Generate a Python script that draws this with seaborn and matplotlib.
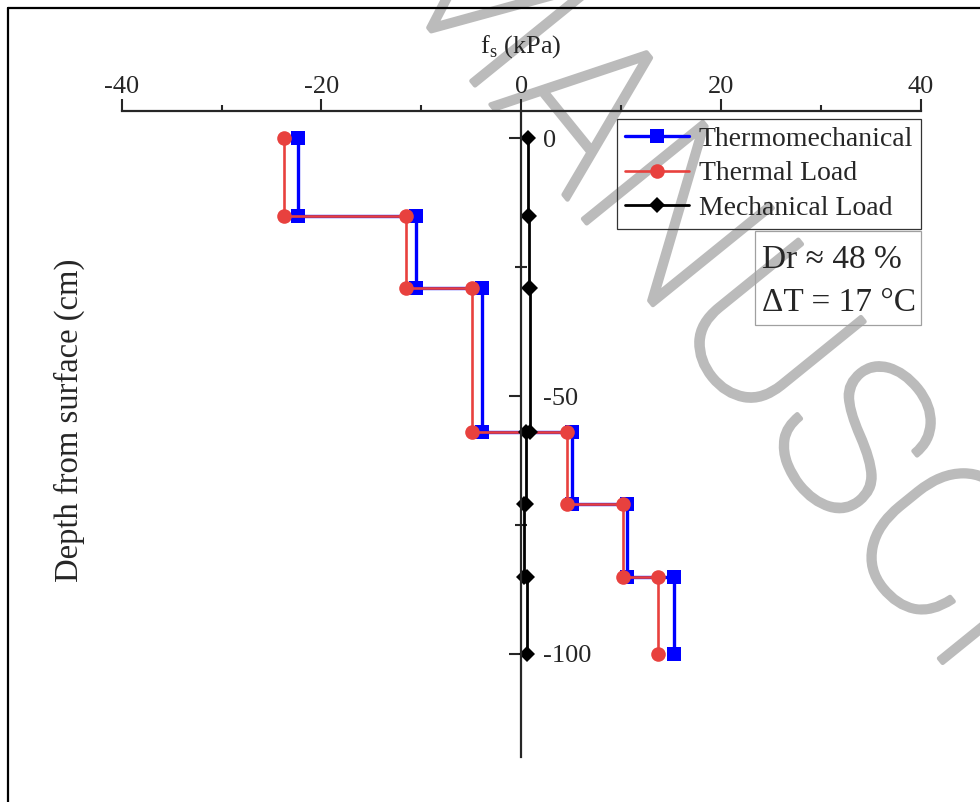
import matplotlib
matplotlib.use("Agg")
import matplotlib.pyplot as plt
import matplotlib.patheffects as pe
import seaborn as sns
import pandas as pd
from matplotlib.lines import Line2D
from matplotlib.patches import Rectangle
from matplotlib.ticker import MultipleLocator, FixedLocator

# ---- data ----
depth = [0, -15, -15, -29, -29, -57, -57, -71, -71, -85, -85, -100]
thermomechanical = [-22.3, -22.3, -10.5, -10.5, -3.9, -3.9, 5.1, 5.1, 10.55, 10.55, 15.3, 15.3]
thermal_load = [-23.8, -23.8, -11.5, -11.5, -4.95, -4.95, 4.6, 4.6, 10.15, 10.15, 13.7, 13.7]
mechanical_load = [0.7, 0.7, 0.8, 0.8, 0.9, 0.9, 0.45, 0.45, 0.3, 0.3, 0.55, 0.55]
series_names = ["Thermomechanical", "Thermal Load", "Mechanical Load"]
x_ticks = [-40, -20, 0, 20, 40]
y_ticks = [0, -50, -100]
annotation = "Dr \u2248 48 %\n\u0394T = 17 \u00b0C"
watermark = "MANUSCRIPT"

sns.set_style("ticks")
plt.rcParams["font.family"] = ["Liberation Serif", "DejaVu Serif"]
plt.rcParams["mathtext.fontset"] = "custom"
plt.rcParams["mathtext.rm"] = "Liberation Serif"
plt.rcParams["axes.unicode_minus"] = False

fig = plt.figure(figsize=(9.8, 8.02), dpi=100)
fig.patch.set_facecolor("white")
ax = fig.add_axes([0.1242, 0.0561, 0.8153, 0.8049])
ax.patch.set_facecolor("none")

df = pd.DataFrame({
    "depth": depth,
    series_names[0]: thermomechanical,
    series_names[1]: thermal_load,
    series_names[2]: mechanical_load,
})

styles = {
    series_names[0]: dict(color="#0000ff", marker="s", markersize=10, lw=2.4),
    series_names[1]: dict(color="#e8413e", marker="o", markersize=10.5, lw=1.9),
    series_names[2]: dict(color="black", marker="D", markersize=8, lw=2.0),
}
for name in series_names:
    st = styles[name]
    sns.lineplot(data=df, x=name, y="depth", sort=False, estimator=None,
                 color=st["color"], marker=st["marker"], markersize=st["markersize"],
                 markeredgewidth=0, linewidth=st["lw"], label=name, ax=ax)

ax.set_xlim(-40, 40)
ax.set_ylim(-120, 5.2)

# spines
ax.spines["bottom"].set_visible(False)
ax.spines["top"].set_linewidth(1.6)
ax.spines["left"].set_position(("data", 0))
ax.spines["left"].set_linewidth(1.6)
ax.spines["right"].set_position(("data", 0))
ax.spines["right"].set_visible(False)

# x axis on top
ax.xaxis.tick_top()
ax.xaxis.set_label_position("top")
ax.xaxis.set_major_locator(FixedLocator(x_ticks))
ax.xaxis.set_minor_locator(MultipleLocator(10))
ax.tick_params(axis="x", which="major", direction="out", length=8.6, width=1.5,
               labelsize=19, pad=1, top=True, bottom=False, labeltop=True, labelbottom=False)
ax.tick_params(axis="x", which="minor", direction="out", length=4.3, width=1.5,
               top=True, bottom=False)
ax.set_xlabel(r"f$_{\mathregular{s}}$ (kPa)", fontsize=19, labelpad=17)

# y axis: spine at x=0, ticks left, labels right
ax.yaxis.set_major_locator(FixedLocator(y_ticks))
ax.yaxis.set_minor_locator(FixedLocator([-25, -75]))
ax.tick_params(axis="y", which="major", direction="out", length=8.6, width=1.5,
               labelsize=19, pad=7, left=True, right=False, labelleft=False, labelright=True)
ax.tick_params(axis="y", which="minor", direction="inout", length=8.6, width=1.5,
               left=True, right=False)
ax.set_ylabel("Depth from surface (cm)", fontsize=23.5)
ax.yaxis.set_label_coords(-0.0465, 0.522)

# legend
leg = ax.legend(loc="upper right", bbox_to_anchor=(1.0, 0.989), fontsize=20,
                frameon=True, fancybox=False, edgecolor="#333333", facecolor="none",
                framealpha=1, handlelength=2.3, handletextpad=0.35, labelspacing=0.33,
                borderpad=0.28, borderaxespad=0.0)
leg.get_frame().set_linewidth(0.9)

# annotation box
ax.add_patch(Rectangle((0.7926, 0.6693), 1.0 - 0.7926, 0.8149 - 0.6693,
                       transform=ax.transAxes, fill=False, ec="#a0a0a0", lw=0.9,
                       clip_on=False))
ax.text(0.8014, 0.7374, annotation, transform=ax.transAxes, ha="left", va="center",
        fontsize=24, linespacing=1.53)

# watermark behind everything
fig.text(0.379, 1.0531, watermark, rotation=-51, rotation_mode="anchor",
         ha="left", va="baseline", fontsize=156, color="#bbbbbb",
         family=["Roboto", "DejaVu Sans"], fontweight="light", zorder=-1,
         path_effects=[pe.withStroke(linewidth=3.2, foreground="#bbbbbb")])

# page frame
fig.add_artist(Line2D([0.0077, 0.0077], [-0.01, 0.9906], transform=fig.transFigure,
                      color="black", lw=1.6))
fig.add_artist(Line2D([0.0077, 1.01], [0.9906, 0.9906], transform=fig.transFigure,
                      color="black", lw=1.6))

fig.savefig("out.png", dpi=100)
